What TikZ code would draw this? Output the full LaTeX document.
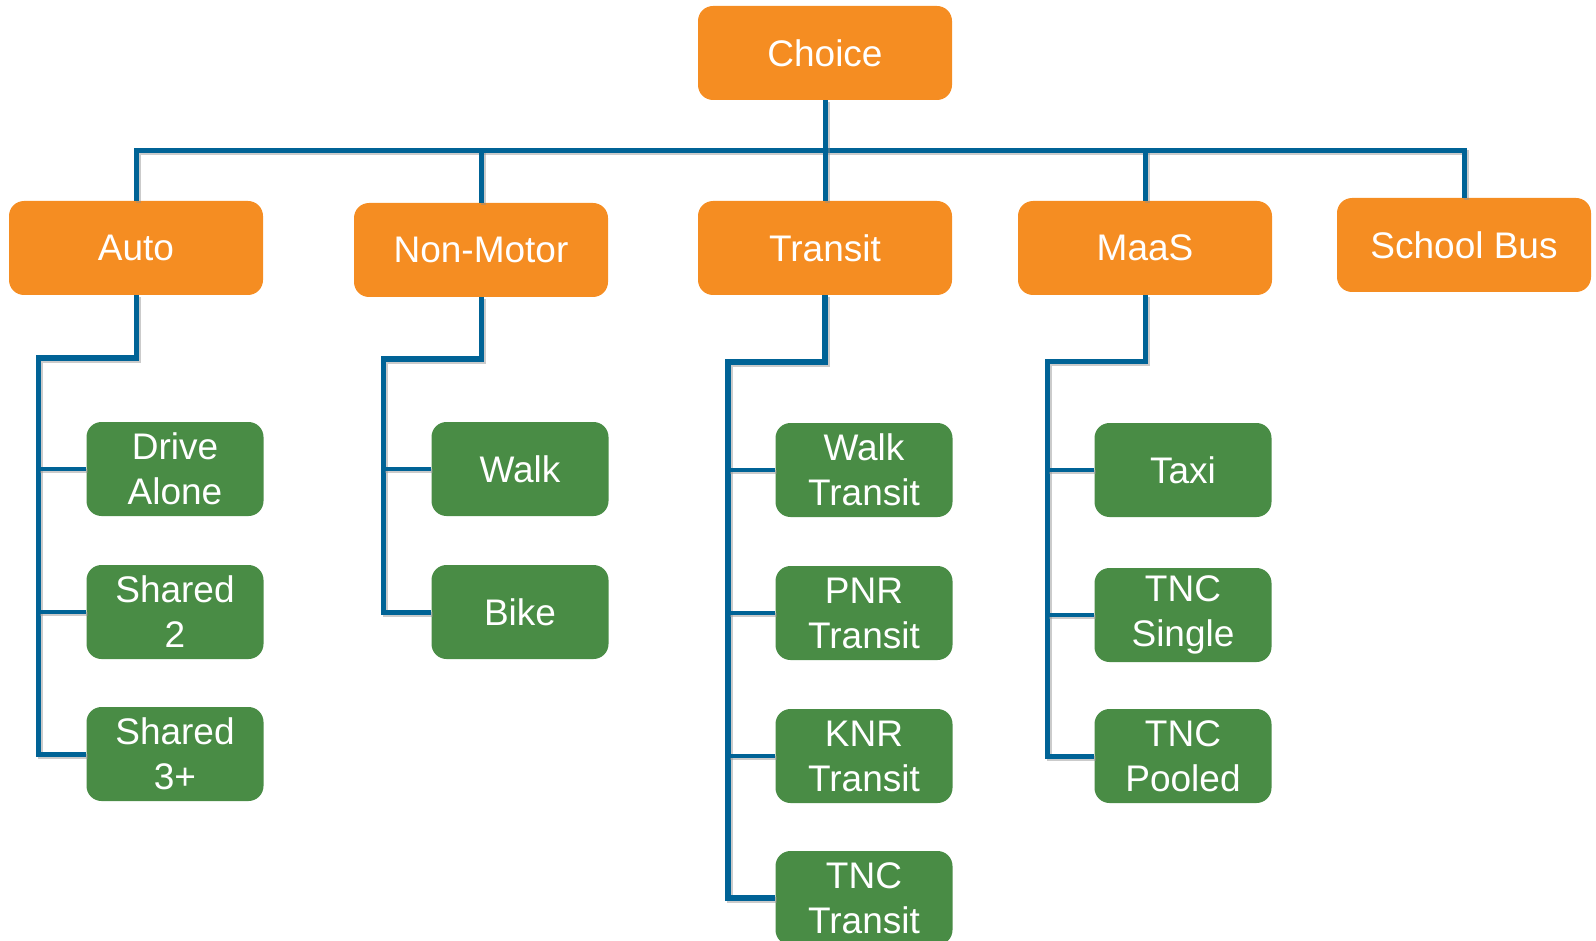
\documentclass[tikz,border=0pt]{standalone}
\usepackage{fontspec}
\setmainfont{Liberation Sans}
\definecolor{modeorange}{RGB}{245, 141, 34}
\definecolor{modegreen}{RGB}{73, 140, 69}
\definecolor{linkblue}{RGB}{0, 99, 150}
\usetikzlibrary{positioning, calc}

\tikzset{
  nest/.style={rounded corners=15pt, inner sep=0pt, align=center, text=white,
    font=\fontsize{37}{45}\selectfont, minimum height=94pt},
  nestbox/.style={nest, fill=modeorange, minimum width=254pt},
  modebox/.style={nest, fill=modegreen, minimum width=177pt},
  link/.style={draw=linkblue, line width=#1, line join=miter,
    preaction={draw=black!45, line width=#1, opacity=0.45,
      transform canvas={shift={(2pt,-2pt)}}}},
  link/.default=5pt
}

\begin{document}
\begin{tikzpicture}[x=1pt, y=-1pt]
  \useasboundingbox (0,0) rectangle (1596,941);

  % Top and nests
  \node[nestbox] (choice) at (825,53) {Choice};
  \node[nestbox] (auto) at (136,248) {Auto};
  \node[nestbox] (nonmotor) at (481,250) {Non-Motor};
  \node[nestbox] (transit) at (825,248) {Transit};
  \node[nestbox] (maas) at (1145,248) {MaaS};
  \node[nestbox] (schoolbus) at (1464,245) {School Bus};

  % Modes
  \node[modebox] (drive) at (175,469) {Drive\\Alone};
  \node[modebox] (sr2) at (175,612) {Shared\\2};
  \node[modebox] (sr3) at (175,754) {Shared\\3+};
  \node[modebox] (walk) at (520,469) {Walk};
  \node[modebox] (bike) at (520,612) {Bike};
  \node[modebox] (wtrn) at (864,470) {Walk\\Transit};
  \node[modebox] (ptrn) at (864,613) {PNR\\Transit};
  \node[modebox] (ktrn) at (864,756) {KNR\\Transit};
  \node[modebox] (ttrn) at (864,898) {TNC\\Transit};
  \node[modebox] (taxi) at (1183,470) {Taxi};
  \node[modebox] (tncs) at (1183,615) {TNC\\Single};
  \node[modebox] (tncp) at (1183,756) {TNC\\Pooled};

  % Bus under Choice
  \coordinate (bus) at (825,151);
  \draw[link] (auto.north) |- (bus) -| (schoolbus.north);
  \draw[link] (nonmotor.north) -- (nonmotor.north |- bus);
  \draw[link] (maas.north) -- (maas.north |- bus);
  \draw[link] (choice.south) -- (transit.north);

  % Spines
  \coordinate (autospine) at (38,358);
  \coordinate (nmspine) at (383,359);
  \coordinate (trnspine) at (728,362);
  \coordinate (maasspine) at (1047,361);
  \draw[link] (auto.south) |- (autospine) -- (autospine |- sr3.west) -- (sr3.west);
  \draw[link] (nonmotor.south) |- (nmspine) -- (nmspine |- bike.west) -- (bike.west);
  \draw[link=6pt] (transit.south) |- (trnspine) -- (trnspine |- ttrn.west) -- (ttrn.west);
  \draw[link] (maas.south) |- (maasspine) -- (maasspine |- tncp.west) -- (tncp.west);

  % Branches
  \foreach \m in {drive, sr2}
    \draw[link=4pt] (autospine |- \m.west) -- (\m.west);
  \draw[link=4pt] (nmspine |- walk.west) -- (walk.west);
  \foreach \m in {wtrn, ptrn, ktrn}
    \draw[link=4pt] (trnspine |- \m.west) -- (\m.west);
  \foreach \m in {taxi, tncs}
    \draw[link=4pt] (maasspine |- \m.west) -- (\m.west);
\end{tikzpicture}
\end{document}
